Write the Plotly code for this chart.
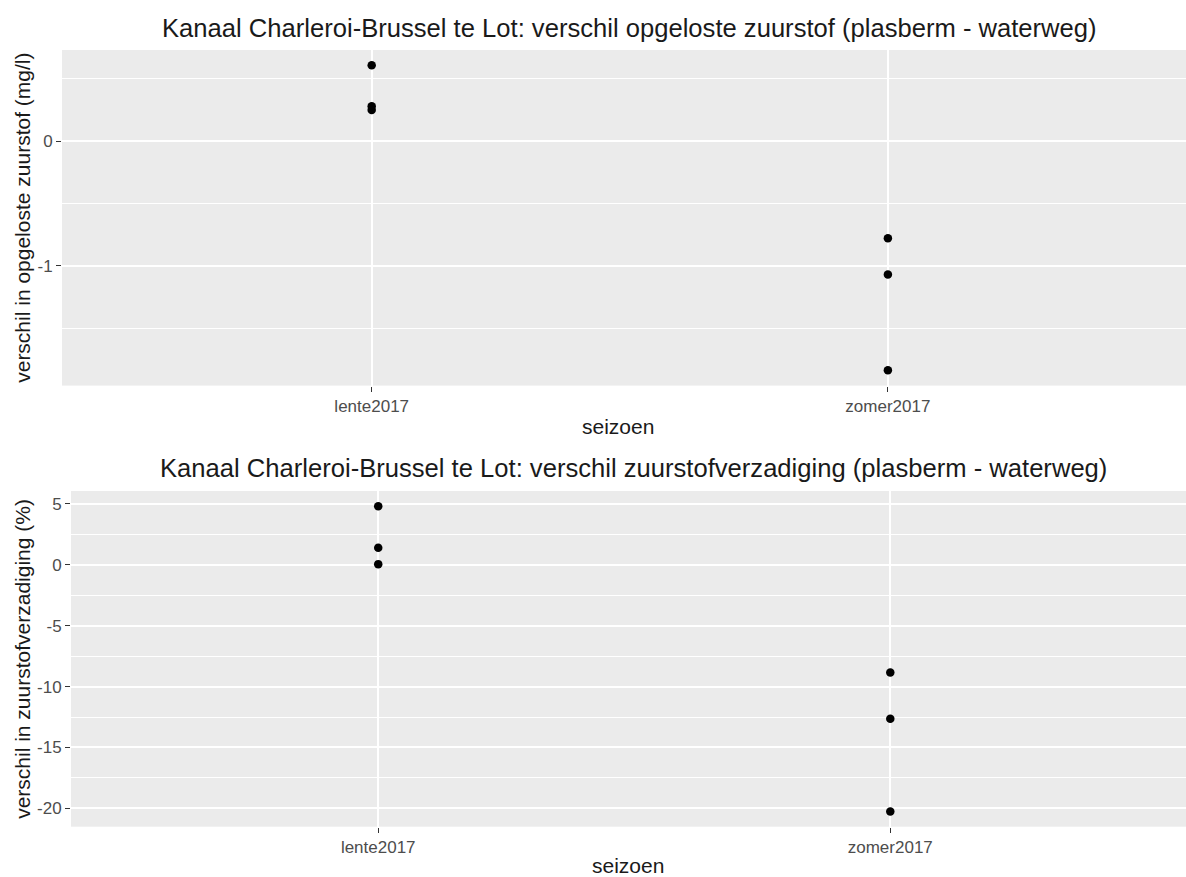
import plotly.graph_objects as go

# ---- data ----
seizoenen = ["lente2017", "zomer2017"]
seizoen = ["lente2017", "lente2017", "lente2017", "zomer2017", "zomer2017", "zomer2017"]
verschil_zuurstof = [0.61, 0.28, 0.25, -0.78, -1.07, -1.84]
verschil_verzadiging = [4.8, 1.4, 0.05, -8.85, -12.65, -20.25]

title_top = "Kanaal Charleroi-Brussel te Lot: verschil opgeloste zuurstof (plasberm - waterweg)"
title_bot = "Kanaal Charleroi-Brussel te Lot: verschil zuurstofverzadiging (plasberm - waterweg)"
ytitle_top = "verschil in opgeloste zuurstof (mg/l)"
ytitle_bot = "verschil in zuurstofverzadiging (%)"
xtitle = "seizoen"

W, H = 1186, 877
FONT = "Arial, 'Liberation Sans', sans-serif"


def expand(vals, f=0.05):
    lo, hi = min(vals), max(vals)
    d = (hi - lo) * f
    return [lo - d, hi + d]


# panel pixel boxes (left, top, bottom); right side extends to figure edge
top_box = (62, 50, 385.6)
bot_box = (71, 491, 826.7)


def px2x(px):
    return px / W


def px2y(py):
    return 1 - py / H


fig = go.Figure()
fig.add_trace(go.Scatter(x=seizoen, y=verschil_zuurstof, mode="markers",
                         marker=dict(color="#000000", size=8.5), xaxis="x", yaxis="y",
                         showlegend=False, cliponaxis=False))
fig.add_trace(go.Scatter(x=seizoen, y=verschil_verzadiging, mode="markers",
                         marker=dict(color="#000000", size=8.5), xaxis="x2", yaxis="y2",
                         showlegend=False, cliponaxis=False))

xcommon = dict(type="category", categoryorder="array", categoryarray=seizoenen,
               range=[-0.6, 1.5775], showgrid=True, gridcolor="white", gridwidth=2,
               ticks="outside", ticklen=5, tickwidth=1.2, tickcolor="#333333",
               tickfont=dict(family=FONT, size=17, color="#4D4D4D"),
               showline=False, zeroline=False, fixedrange=True)
ycommon = dict(showgrid=True, gridcolor="white", gridwidth=2,
               ticks="outside", ticklen=5, tickwidth=1.2, tickcolor="#333333",
               tickfont=dict(family=FONT, size=17, color="#4D4D4D"),
               showline=False, zeroline=False, fixedrange=True)

fig.update_layout(
    width=W, height=H,
    margin=dict(l=0, r=0, t=0, b=0),
    paper_bgcolor="white", plot_bgcolor="#EBEBEB",
    xaxis=dict(xcommon, domain=[px2x(top_box[0]), 1], anchor="y"),
    yaxis=dict(ycommon, domain=[px2y(top_box[2]), px2y(top_box[1])], anchor="x",
               range=expand(verschil_zuurstof), tickvals=[-1, 0], ticktext=["-1", "0"],
               minor=dict(tickvals=[-1.5, -0.5, 0.5], showgrid=True,
                          gridcolor="white", gridwidth=1, ticks="")),
    xaxis2=dict(xcommon, domain=[px2x(bot_box[0]), 1], anchor="y2"),
    yaxis2=dict(ycommon, domain=[px2y(bot_box[2]), px2y(bot_box[1])], anchor="x2",
                range=expand(verschil_verzadiging), tickvals=[-20, -15, -10, -5, 0, 5],
                ticktext=["-20", "-15", "-10", "-5", "0", "5"],
                minor=dict(tickvals=[-17.5, -12.5, -7.5, -2.5, 2.5], showgrid=True,
                           gridcolor="white", gridwidth=1, ticks="")),
)

ann = []
ann.append(dict(text=title_top, x=px2x(629.5), y=px2y(28), xref="paper", yref="paper",
                xanchor="center", yanchor="middle", showarrow=False,
                font=dict(family=FONT, size=25.6, color="#1A1A1A")))
ann.append(dict(text=title_bot, x=px2x(634), y=px2y(468), xref="paper", yref="paper",
                xanchor="center", yanchor="middle", showarrow=False,
                font=dict(family=FONT, size=25.6, color="#1A1A1A")))
ann.append(dict(text=xtitle, x=px2x(618), y=px2y(426), xref="paper", yref="paper",
                xanchor="center", yanchor="middle", showarrow=False,
                font=dict(family=FONT, size=21, color="#1A1A1A")))
ann.append(dict(text=xtitle, x=px2x(628), y=px2y(865), xref="paper", yref="paper",
                xanchor="center", yanchor="middle", showarrow=False,
                font=dict(family=FONT, size=21, color="#1A1A1A")))
ann.append(dict(text=ytitle_top, x=px2x(23), y=px2y((top_box[1] + top_box[2]) / 2),
                xref="paper", yref="paper", xanchor="center", yanchor="middle",
                textangle=-90, showarrow=False,
                font=dict(family=FONT, size=21, color="#1A1A1A")))
ann.append(dict(text=ytitle_bot, x=px2x(23), y=px2y((bot_box[1] + bot_box[2]) / 2),
                xref="paper", yref="paper", xanchor="center", yanchor="middle",
                textangle=-90, showarrow=False,
                font=dict(family=FONT, size=21, color="#1A1A1A")))
fig.update_layout(annotations=ann)

fig.write_html("out.html", config={"displayModeBar": False},
               post_script="document.body.style.margin='0';document.body.style.overflow='hidden';")
